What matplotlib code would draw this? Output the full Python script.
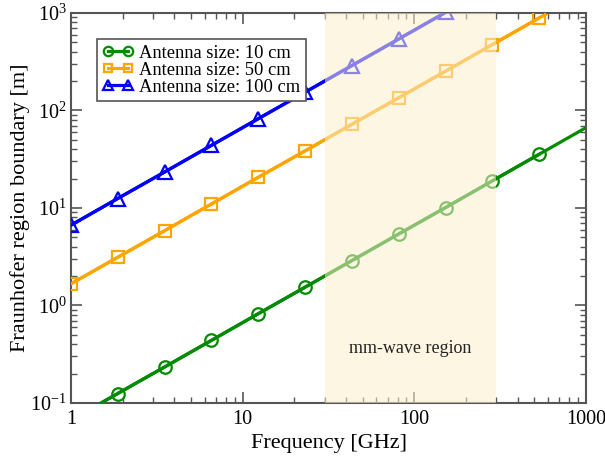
import matplotlib
matplotlib.use("Agg")
import matplotlib.pyplot as plt
from matplotlib.ticker import LogLocator, FixedLocator, FixedFormatter, NullFormatter

plt.rcParams['font.family'] = ['Liberation Serif', 'DejaVu Serif']
plt.rcParams['mathtext.fontset'] = 'custom'
plt.rcParams['mathtext.rm'] = 'Liberation Serif'
plt.rcParams['mathtext.it'] = 'Liberation Serif:italic'

# Frequencies [GHz] where the boundary is sampled
freq_ghz = [1.0, 1.87, 3.51, 6.58, 12.3, 23.1, 43.3, 81.1, 152.0, 285.0, 534.0, 1000.0]

# Fraunhofer boundary [m] for each antenna size
boundary_10cm = [0.0667, 0.125, 0.234, 0.439, 0.822, 1.54, 2.89, 5.41, 10.1, 19.0, 35.6, 66.7]
boundary_50cm = [1.67, 3.12, 5.85, 11.0, 20.6, 38.5, 72.2, 135.0, 253.0, 475.0, 890.0, 1667.0]
boundary_100cm = [6.67, 12.5, 23.4, 43.9, 82.2, 154.0, 289.0, 541.0, 1014.0, 1900.0, 3560.0, 6670.0]

labels = ["Antenna size: 10 cm", "Antenna size: 50 cm", "Antenna size: 100 cm"]
mmwave_band = [30.0, 300.0]

x_ticks = [1, 10, 100, 1000]
x_ticklabels = ["1", "10", "100", "1000"]
y_ticks = [0.1, 1, 10, 100, 1000]
y_ticklabels = [r"$10^{-1}$", r"$10^{0}$", r"$10^{1}$", r"$10^{2}$", r"$10^{3}$"]

fig = plt.figure(figsize=(6.05, 4.57), dpi=100)
ax = fig.add_axes([0.1174, 0.1182, 0.8512, 0.8534])

series = [
    (boundary_10cm, "#008b00", "o", 9),
    (boundary_50cm, "#ffa500", "s", 8.5),
    (boundary_100cm, "#0000ff", "^", 9.5),
]
for (vals, color, marker, ms), lab in zip(series, labels):
    # continuous curve over the full range
    ax.plot(freq_ghz, vals, color=color, lw=2.3, zorder=2)
    # open symbols on all samples but the last one
    ax.plot(freq_ghz[:-1], vals[:-1], color=color, lw=2.3, marker=marker,
            markersize=ms, markerfacecolor="none", markeredgecolor=color,
            markeredgewidth=1.6, label=lab, zorder=3)

# translucent band laid over the curves
ax.axvspan(mmwave_band[0], mmwave_band[1], color="#fbefcd", alpha=0.55, lw=0, zorder=4)
ax.text(94, 0.36, "mm-wave region", ha="center", va="center", fontsize=13,
        color="#222222", zorder=5)

ax.set_xscale("log")
ax.set_yscale("log")
ax.set_xlim(1, 1000)
ax.set_ylim(0.1, 1000)

ax.xaxis.set_major_locator(FixedLocator(x_ticks))
ax.xaxis.set_major_formatter(FixedFormatter(x_ticklabels))
ax.xaxis.set_minor_locator(LogLocator(base=10, subs=range(2, 10)))
ax.xaxis.set_minor_formatter(NullFormatter())
ax.yaxis.set_major_locator(FixedLocator(y_ticks))
ax.yaxis.set_major_formatter(FixedFormatter(y_ticklabels))
ax.yaxis.set_minor_locator(LogLocator(base=10, subs=range(2, 10)))
ax.yaxis.set_minor_formatter(NullFormatter())

ax.tick_params(which="both", direction="in", top=True, right=True, color="#555555")
ax.tick_params(which="major", length=8, width=1.2, labelsize=14.5)
ax.tick_params(axis="y", which="major", pad=3)
ax.tick_params(axis="x", which="major", pad=5)
ax.tick_params(which="minor", length=4, width=1.0)
for sp in ax.spines.values():
    sp.set_linewidth(1.5)
    sp.set_color("#555555")

ax.set_xlabel("Frequency [GHz]", fontsize=16, labelpad=4)
ax.set_ylabel("Fraunhofer region boundary [m]", fontsize=16)
ax.yaxis.set_label_coords(-0.08, 0.5)

leg = ax.legend(loc="upper left", bbox_to_anchor=(0.05, 0.933), fontsize=13.3,
                numpoints=2, markerscale=0.75, handlelength=1.7, handletextpad=0.3,
                labelspacing=0.0, borderpad=0.3, borderaxespad=0.0, fancybox=False,
                framealpha=1, edgecolor="#555555")
leg.get_frame().set_linewidth(1.2)
leg.set_zorder(6)

fig.savefig("out.png", dpi=100)
